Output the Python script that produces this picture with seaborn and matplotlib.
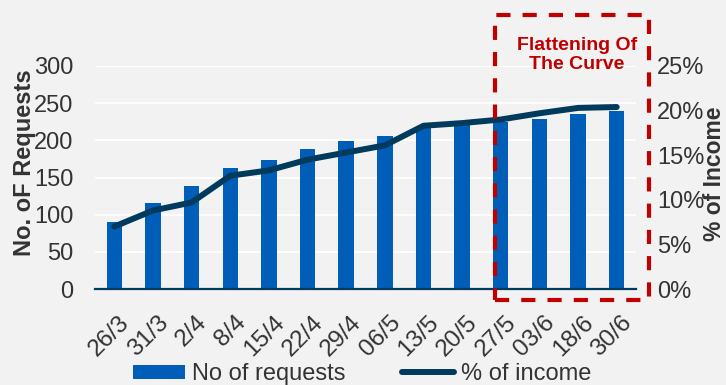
import matplotlib
matplotlib.use("Agg")
import matplotlib.pyplot as plt
import matplotlib.transforms as mtransforms
import seaborn as sns
import pandas as pd
import numpy as np
from matplotlib.patches import Rectangle, Patch
from matplotlib.lines import Line2D
from matplotlib.ticker import FuncFormatter

# ---- data ----
dates = ["26/3", "31/3", "2/4", "8/4", "15/4", "22/4", "29/4", "06/5",
         "13/5", "20/5", "27/5", "03/6", "18/6", "30/6"]
requests = [90, 116, 138, 163, 174, 189, 199, 206, 219, 222, 224, 229, 235, 239]
income_pct = [7.0, 8.8, 9.7, 12.7, 13.3, 14.5, 15.3, 16.1, 18.3, 18.6, 19.0, 19.7, 20.3, 20.4]
left_ticks = [0, 50, 100, 150, 200, 250, 300]
right_ticks = [0, 5, 10, 15, 20, 25]

BG = "#F2F2F2"
BAR = "#005EB8"
LINE = "#003A5D"
RED = "#C00000"
TXT = "#333333"

sns.set_theme(style="whitegrid", rc={"axes.facecolor": BG, "figure.facecolor": BG,
                                     "grid.color": "white"})
plt.rcParams['font.family'] = ['Liberation Sans', 'DejaVu Sans']

df = pd.DataFrame({"date": dates, "requests": requests,
                   "income": np.array(income_pct) / 100.0})

W, H = 726, 385
fig = plt.figure(figsize=(W / 100, H / 100), dpi=100, facecolor=BG)
ax = fig.add_axes([95 / W, 1 - 289 / H, (636 - 95) / W, (289 - 66) / H])

sns.barplot(data=df, x="date", y="requests", color=BAR, width=0.4,
            saturation=1, linewidth=0, ax=ax)
ax.set_ylim(0, 300)
ax.set_yticks(left_ticks)
ax.set_xlabel("")
ax.set_ylabel("")
ax.grid(axis="y", color="white", linewidth=1.3)
ax.grid(axis="x", visible=False)
ax.set_axisbelow(True)
for s in ["top", "left", "right"]:
    ax.spines[s].set_visible(False)
ax.spines["bottom"].set_color(LINE)
ax.spines["bottom"].set_linewidth(1.6)
ax.tick_params(axis="y", length=0, pad=15.5, labelsize=17, labelcolor=TXT)

ax2 = ax.twinx()
sns.pointplot(data=df, x="date", y="income", color=LINE, markers="",
              linestyles="-", errorbar=None, ax=ax2, linewidth=4.3,
              solid_capstyle="round", solid_joinstyle="round")
ax2.set_ylim(0, 0.25)
ax2.set_yticks([v / 100 for v in right_ticks])
ax2.yaxis.set_major_formatter(FuncFormatter(lambda v, p: f"{v * 100:.0f}%"))
ax2.set_ylabel("")
ax2.set_xlabel("")
ax2.grid(False)
for s in ax2.spines.values():
    s.set_visible(False)
ax2.tick_params(axis="y", length=0, pad=15, labelsize=17, labelcolor=TXT)

ax.tick_params(axis="x", length=0, pad=16, labelsize=17.5, labelcolor=TXT,
               labelrotation=45)
shift = mtransforms.ScaledTranslation(3 / 72, 0, fig.dpi_scale_trans)
for lab in ax.get_xticklabels():
    lab.set_ha("right")
    lab.set_va("top")
    lab.set_rotation_mode("anchor")
    lab.set_transform(lab.get_transform() + shift)

# axis titles
fig.text(25 / W, 1 - 163 / H, "No. oF Requests", rotation=90, ha="center",
         va="center", fontsize=17, fontweight="bold", color=TXT)
fig.text(726 / W, 1 - 174 / H, "% of Income", rotation=90, ha="right",
         va="center", fontsize=16.5, fontweight="bold", color=TXT)

# red dashed highlight box
box = Rectangle((495 / W, 1 - 300 / H), (649 - 495) / W, (300 - 15) / H,
                transform=fig.transFigure, fill=False, edgecolor=RED,
                linewidth=3, linestyle=(0, (3.4, 2.9)), zorder=10)
fig.add_artist(box)
fig.text(577 / W, 1 - 55 / H, "Flattening Of\nThe Curve", ha="center",
         va="center", multialignment="center", fontsize=14, fontweight="bold",
         color=RED, linespacing=1.2)

# legend
handles = [Patch(facecolor=BAR, edgecolor="none", label="No of requests"),
           Line2D([], [], color=LINE, lw=4.3, solid_capstyle="round",
                  label="% of income")]
fig.legend(handles=handles, loc="center", bbox_to_anchor=(362 / W, 1 - 374 / H),
           ncol=2, frameon=False, fontsize=17, handlelength=2.2,
           handleheight=0.55, handletextpad=0.3, columnspacing=2.4,
           labelcolor=TXT, borderpad=0, borderaxespad=0)

fig.savefig("out.png", dpi=100, facecolor=BG)
